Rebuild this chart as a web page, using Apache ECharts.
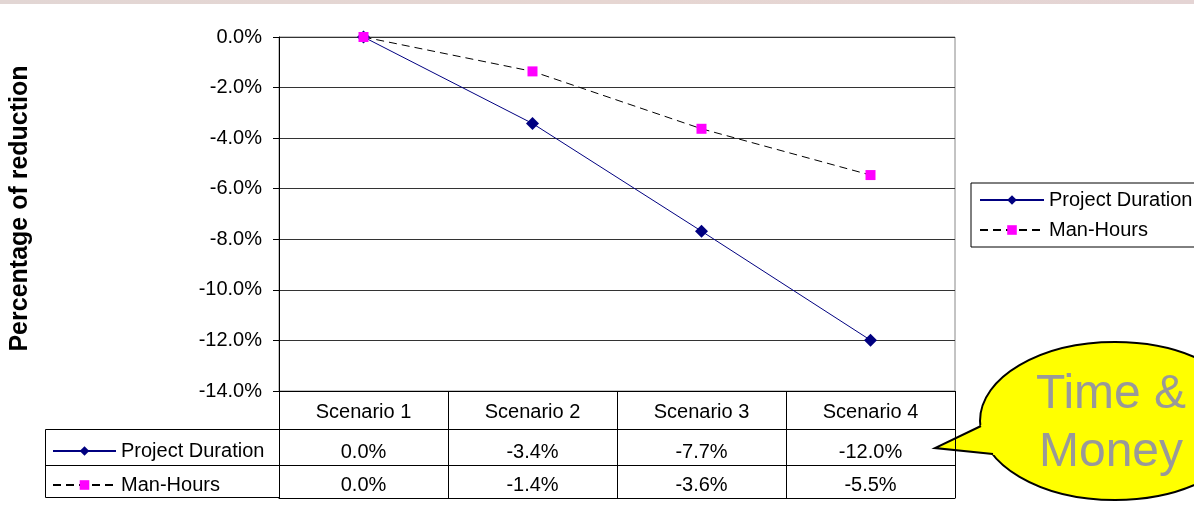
<!DOCTYPE html>
<html>
<head>
<meta charset="utf-8">
<script src="https://cdn.jsdelivr.net/npm/echarts@6/dist/echarts.min.js"></script>
<style>
  html, body { margin: 0; padding: 0; background: #fff; }
  #main { width: 1194px; height: 510px; }
</style>
</head>
<body>
<div id="main"></div>
<script>
// data
var categories = ['Scenario 1', 'Scenario 2', 'Scenario 3', 'Scenario 4'];
var projectDuration = [0, -3.42, -7.68, -11.99];   // %
var manHours = [0, -1.36, -3.63, -5.46];           // %
var yTicks = { min: -14, max: 0, step: 2 };

var FONT = 'Liberation Sans';
var pct = function (v) { return v.toFixed(1) + '%'; };

var myChart = echarts.init(document.getElementById('main'), null, { renderer: 'canvas' });

// table rows under the plot are extra category axes sharing the grid
function tableAxis(offset, tickLen, margin, formatter, showLabel) {
    return {
        type: 'category',
        data: categories,
        position: 'bottom',
        offset: offset,
        boundaryGap: true,
        axisLine: { show: true, onZero: false, lineStyle: { color: '#000', width: 1 } },
        axisTick: { show: tickLen > 0, length: tickLen, lineStyle: { color: '#000', width: 1 } },
        axisLabel: {
            show: showLabel,
            margin: margin,
            fontSize: 20,
            fontFamily: FONT,
            color: '#000',
            formatter: formatter
        },
        splitLine: { show: false }
    };
}

var option = {
    backgroundColor: '#fff',
    animation: false,
    grid: {
        left: 279,
        right: 239,
        top: 37,
        bottom: 119,
        outerBoundsMode: 'none',
        show: true,
        borderColor: '#888',
        borderWidth: 1
    },
    legend: [
        {
            orient: 'vertical',
            left: 971,
            top: 183,
            padding: [6, 60, 6, 8],
            borderColor: '#000',
            borderWidth: 1,
            itemWidth: 64,
            itemHeight: 12,
            itemGap: 8,
            selectedMode: false,
            textStyle: { fontSize: 20, fontFamily: FONT, color: '#000', lineHeight: 22 },
            data: ['Project Duration', 'Man-Hours']
        },
        {
            // row labels of the data table
            orient: 'vertical',
            left: 52,
            top: 440,
            padding: 0,
            itemWidth: 63,
            itemHeight: 12,
            itemGap: 12,
            selectedMode: false,
            textStyle: { fontSize: 20, fontFamily: FONT, color: '#000', lineHeight: 22 },
            data: ['Project Duration', 'Man-Hours']
        }
    ],
    xAxis: [
        tableAxis(0, 38, 11, null, true),
        tableAxis(38, 36, 13, function (v, i) { return pct(projectDuration[i]); }, true),
        tableAxis(74, 33, 10, function (v, i) { return pct(manHours[i]); }, true),
        tableAxis(107, 0, 0, null, false)
    ],
    yAxis: {
        type: 'value',
        min: yTicks.min,
        max: yTicks.max,
        interval: yTicks.step,
        name: 'Percentage of reduction',
        nameLocation: 'middle',
        nameRotate: 90,
        nameGap: 246,
        nameTextStyle: { fontSize: 25, fontWeight: 'bold', fontFamily: FONT, color: '#000', padding: [0, 0, 0, 11] },
        axisLine: { show: true, lineStyle: { color: '#000', width: 1 } },
        axisTick: { show: true, length: 6, lineStyle: { color: '#000' } },
        axisLabel: { margin: 17, fontSize: 20, fontFamily: FONT, color: '#000', formatter: pct },
        splitLine: { show: true, lineStyle: { color: '#333', width: 1 } }
    },
    series: [
        {
            name: 'Project Duration',
            type: 'line',
            data: projectDuration,
            symbol: 'diamond',
            symbolSize: 13,
            itemStyle: { color: '#000080' },
            lineStyle: { color: '#000080', width: 1 }
        },
        {
            name: 'Man-Hours',
            type: 'line',
            data: manHours,
            symbol: 'rect',
            symbolSize: 10,
            itemStyle: { color: '#ff00ff' },
            lineStyle: { color: '#000', width: 1, type: [8, 5] }
        }
    ],
    graphic: [
        {
            type: 'rect',
            shape: { x: 0, y: 0, width: 1194, height: 4 },
            style: {
                fill: new echarts.graphic.LinearGradient(0, 0, 1, 0, [
                    { offset: 0, color: '#e2d6d4' },
                    { offset: 0.5, color: '#e6d6d2' },
                    { offset: 1, color: '#e4d4d4' }
                ])
            },
            silent: true
        },
        // left part of the data table
        {
            type: 'rect',
            shape: { x: 45.5, y: 429.5, width: 234, height: 68 },
            style: { fill: 'none', stroke: '#000', lineWidth: 1 },
            silent: true
        },
        {
            type: 'line',
            shape: { x1: 45, y1: 465.5, x2: 279, y2: 465.5 },
            style: { stroke: '#000', lineWidth: 1 },
            silent: true
        },
        // speech bubble
        {
            type: 'ellipse',
            shape: { cx: 1115, cy: 421, rx: 135, ry: 79 },
            style: { fill: '#ffff00', stroke: '#000', lineWidth: 2 },
            silent: true
        },
        {
            type: 'polygon',
            shape: { points: [[983, 424], [937, 448], [995, 455], [1002, 440]] },
            style: { fill: '#ffff00' },
            silent: true
        },
        {
            type: 'polyline',
            shape: { points: [[981, 426], [935, 448], [993, 454]] },
            style: { stroke: '#000', lineWidth: 2, fill: 'none' },
            silent: true
        },
        {
            type: 'text',
            x: 1111,
            y: 366,
            style: {
                text: 'Time &\nMoney',
                fontSize: 48,
                fontFamily: FONT,
                fill: '#999',
                align: 'center',
                verticalAlign: 'top',
                lineHeight: 58
            },
            silent: true
        }
    ]
};

myChart.setOption(option);
window.onresize = myChart.resize;
</script>
</body>
</html>
